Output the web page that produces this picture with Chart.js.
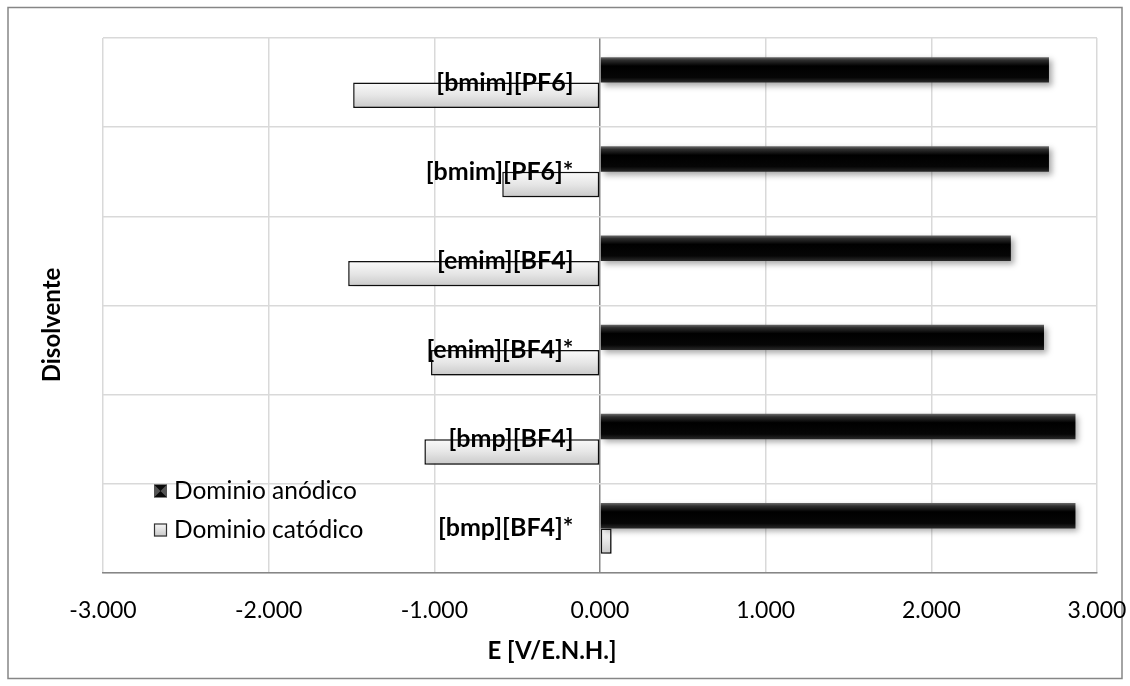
<!DOCTYPE html>
<html lang="es">
<head>
  <meta charset="UTF-8" />
  <title>Dominio electroquímico por disolvente</title>

  <!-- Chart.js -->
  <script src="https://cdn.jsdelivr.net/npm/chart.js"></script>

  <style>
    html, body { margin: 0; padding: 0; background: #fff; }
    #caja { width: 1130px; height: 686px; }
  </style>
</head>
<body>

  <div id="caja">
    <canvas id="grafico" width="1130" height="686"></canvas>
  </div>

  <script>
    // Datos
    const disolventes = ['[bmim][PF6]', '[bmim][PF6]*', '[emim][BF4]', '[emim][BF4]*', '[bmp][BF4]', '[bmp][BF4]*'];
    const dominioAnodico = [2.71, 2.71, 2.48, 2.68, 2.87, 2.87];
    const dominioCatodico = [-1.49, -0.59, -1.52, -1.02, -1.06, 0.07];
    const ticksX = [-3, -2, -1, 0, 1, 2, 3];
    const nombresSeries = ['Dominio anódico', 'Dominio catódico'];
    const tituloX = 'E [V/E.N.H.]';
    const tituloY = 'Disolvente';

    const fuente = 'Lato, "Open Sans", sans-serif';
    const ocupacion = 0.57;
    const posEtiquetas = -0.16; // las etiquetas quedan un poco a la izquierda del eje 0

    // Relleno con efecto biselado (degradado vertical por barra)
    function relleno(oscuro) {
      const plano = oscuro ? '#0a0a0a' : '#dcdcdc';
      return (ctx) => {
        const chart = ctx.chart;
        const y = chart.scales && chart.scales.y;
        if (!y || ctx.type !== 'data') return plano;
        const centro = y.getPixelForValue(ctx.dataIndex);
        const banda = Math.abs(y.getPixelForValue(1) - y.getPixelForValue(0));
        if (!Number.isFinite(centro) || !Number.isFinite(banda) || banda === 0) return plano;
        const alto = banda * ocupacion / 2;
        const y0 = oscuro ? centro - alto : centro;
        const g = chart.ctx.createLinearGradient(0, y0, 0, y0 + alto);
        if (oscuro) {
          g.addColorStop(0, '#6a6a6a');
          g.addColorStop(0.12, '#2e2e2e');
          g.addColorStop(0.35, '#000000');
          g.addColorStop(0.8, '#060606');
          g.addColorStop(1, '#2a2a2a');
        } else {
          g.addColorStop(0, '#fafafa');
          g.addColorStop(0.5, '#e6e6e6');
          g.addColorStop(1, '#c9c9c9');
        }
        return g;
      };
    }

    // Fondo y marco exterior
    const marco = {
      id: 'marco',
      beforeDraw(chart) {
        const c = chart.ctx;
        c.save();
        c.fillStyle = '#fff';
        c.fillRect(0, 0, chart.width, chart.height);
        c.strokeStyle = '#868686';
        c.lineWidth = 1.5;
        c.strokeRect(8, 7.5, chart.width - 16, chart.height - 15);
        c.restore();
      }
    };

    // Sombra de las barras
    const sombra = {
      id: 'sombra',
      beforeDatasetsDraw(chart) {
        const c = chart.ctx;
        c.save();
        c.shadowColor = 'rgba(0,0,0,0.35)';
        c.shadowBlur = 6;
        c.shadowOffsetX = 3;
        c.shadowOffsetY = 3;
      },
      afterDatasetsDraw(chart) {
        chart.ctx.restore();
      }
    };

    // Títulos de ejes y leyenda dentro del área
    const textos = {
      id: 'textos',
      afterDraw(chart) {
        const c = chart.ctx;
        c.save();
        c.fillStyle = '#000';
        c.font = 'bold 24px ' + fuente;
        c.textAlign = 'center';
        c.textBaseline = 'middle';
        c.fillText(tituloX, 552, 651);

        c.translate(52, 325);
        c.rotate(-Math.PI / 2);
        c.fillText(tituloY, 0, 0);
        c.restore();

        // leyenda
        c.save();
        const x0 = 154, filas = [491, 530], lado = 13;
        chart.data.datasets.forEach((ds, i) => {
          const yc = filas[i];
          const top = yc - lado / 2;
          if (i === 0) {
            c.fillStyle = '#0a0a0a';
            c.fillRect(x0, top, lado, lado);
            c.fillStyle = '#555';
            c.beginPath();
            c.moveTo(x0, top); c.lineTo(x0 + lado / 2, yc); c.lineTo(x0, top + lado); c.closePath();
            c.moveTo(x0 + lado, top); c.lineTo(x0 + lado / 2, yc); c.lineTo(x0 + lado, top + lado); c.closePath();
            c.fill();
          } else {
            const g = c.createLinearGradient(0, top, 0, top + lado);
            g.addColorStop(0, '#f8f8f8');
            g.addColorStop(1, '#c8c8c8');
            c.fillStyle = g;
            c.fillRect(x0, top, lado, lado);
            c.strokeStyle = '#333';
            c.lineWidth = 1.2;
            c.strokeRect(x0 + 0.5, top + 0.5, lado - 1, lado - 1);
          }
          c.fillStyle = '#000';
          c.font = '24.5px ' + fuente;
          c.textAlign = 'left';
          c.textBaseline = 'middle';
          c.fillText(ds.label, x0 + lado + 7, yc);
        });
        c.restore();
      }
    };

    new Chart(document.getElementById('grafico'), {
      type: 'bar',
      data: {
        labels: disolventes,
        datasets: [
          {
            label: nombresSeries[0],
            data: dominioAnodico,
            backgroundColor: relleno(true),
            borderWidth: 0
          },
          {
            label: nombresSeries[1],
            data: dominioCatodico,
            backgroundColor: relleno(false),
            borderColor: '#111',
            borderWidth: 1.5,
            borderSkipped: false
          }
        ]
      },
      options: {
        indexAxis: 'y',
        responsive: false,
        animation: false,
        devicePixelRatio: 1,
        categoryPercentage: ocupacion,
        barPercentage: 1,
        layout: { padding: { left: 103, right: 33, top: 38, bottom: 33 } },
        plugins: {
          legend: { display: false },
          tooltip: { enabled: false }
        },
        scales: {
          x: {
            min: -3,
            max: 3,
            afterBuildTicks: (s) => { s.ticks = ticksX.map(v => ({ value: v })); },
            afterFit: (s) => { s.height = 80; s.paddingLeft = 0; s.paddingRight = 0; },
            grid: {
              color: (ctx) => (ctx.tick && ctx.tick.value === 0 ? '#868686' : '#d9d9d9'),
              lineWidth: 1.5,
              drawTicks: false
            },
            border: { color: '#868686', width: 1.5 },
            ticks: {
              autoSkip: false,
              maxRotation: 0,
              padding: 24,
              color: '#000',
              font: { family: fuente, size: 23 },
              callback: (v) => Number(v).toFixed(3)
            }
          },
          y: {
            position: { x: posEtiquetas },
            grid: { offset: true, color: '#d9d9d9', lineWidth: 1.5, drawTicks: false },
            border: { display: false },
            ticks: {
              z: 1,
              color: '#000',
              font: { family: fuente, size: 25, weight: 'bold' }
            }
          }
        }
      },
      plugins: [marco, sombra, textos]
    });
  </script>
</body>
</html>
